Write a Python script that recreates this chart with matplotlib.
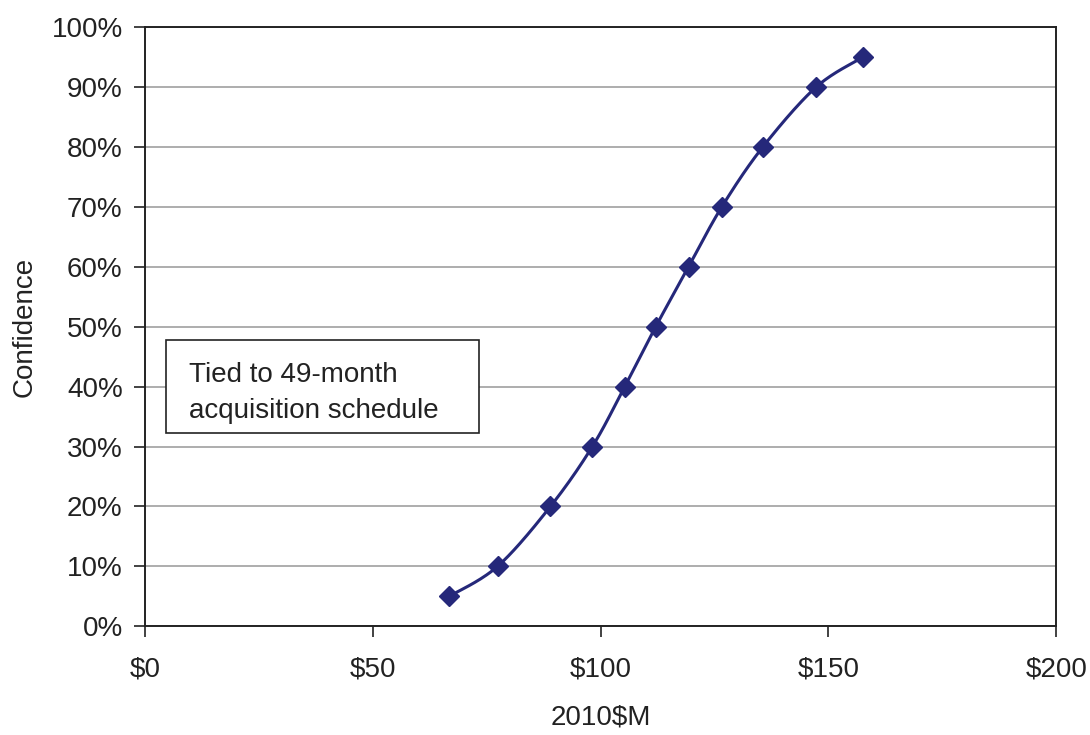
import matplotlib.pyplot as plt
import numpy as np
from matplotlib.patches import Rectangle
from matplotlib.ticker import FuncFormatter, MultipleLocator

plt.rcParams['font.family'] = ['Liberation Sans', 'DejaVu Sans']

cost = [66.8, 77.4, 89.0, 98.2, 105.3, 112.1, 119.3, 126.6, 135.6, 147.3, 157.6]
confidence = [0.05, 0.10, 0.20, 0.30, 0.40, 0.50, 0.60, 0.70, 0.80, 0.90, 0.95]
x_ticks = [0, 50, 100, 150, 200]


def smooth(xs, ys, n=30):
    # catmull-rom style smoothing, like the spreadsheet "smoothed line"
    pts = np.column_stack([xs, ys]).astype(float)
    pts = np.vstack([pts[0], pts, pts[-1]])
    out = []
    for i in range(1, len(pts) - 2):
        p0, p1, p2, p3 = pts[i - 1], pts[i], pts[i + 1], pts[i + 2]
        c1 = p1 + (p2 - p0) / 6.0
        c2 = p2 - (p3 - p1) / 6.0
        t = np.linspace(0, 1, n)[:, None]
        seg = ((1 - t) ** 3) * p1 + 3 * ((1 - t) ** 2) * t * c1 + 3 * (1 - t) * t ** 2 * c2 + t ** 3 * p2
        out.append(seg)
    out = np.vstack(out)
    return out[:, 0], out[:, 1]


fig = plt.figure(figsize=(10.9, 7.35), dpi=100)
ax = fig.add_axes([0.133, 0.148, 0.836, 0.815])

# scale y to pixel-like units so the smoothing is not distorted
sx, sy = smooth(np.array(cost), np.array(confidence) * 200)
navy = '#25287a'
ax.plot(sx, sy / 200, color=navy, lw=2.2, zorder=3)
ax.plot(cost, confidence, linestyle='none', marker='D', ms=10.5, color=navy, zorder=4)

ax.set_xlim(0, 200)
ax.set_ylim(0, 1.0)
ax.set_xticks(x_ticks)
ax.xaxis.set_major_formatter(FuncFormatter(lambda v, p: f'${v:.0f}'))
ax.yaxis.set_major_locator(MultipleLocator(0.1))
ax.yaxis.set_major_formatter(FuncFormatter(lambda v, p: f'{v * 100:.0f}%'))
ax.grid(axis='y', color='#a0a0a0', lw=1.2)
ax.set_axisbelow(True)

for s in ax.spines.values():
    s.set_color('#222222')
    s.set_linewidth(1.4)
ax.tick_params(axis='both', direction='out', length=8, width=1.2, color='#222222',
               labelsize=20, labelcolor='#222222')
ax.tick_params(axis='x', pad=14)
ax.tick_params(axis='y', pad=8)

ax.set_xlabel('2010$M', fontsize=20, color='#222222', labelpad=16)
ax.set_ylabel('Confidence', fontsize=20, color='#222222', labelpad=10)

# note box
ax.add_patch(Rectangle((0.023, 0.322), 0.344, 0.155, transform=ax.transAxes,
                       facecolor='white', edgecolor='#222222', lw=1.2, zorder=5))
ax.text(0.048, 0.39, 'Tied to 49-month\nacquisition schedule', transform=ax.transAxes,
        fontsize=20, color='#222222', va='center', ha='left', linespacing=1.5, zorder=6)

plt.savefig('out.png', dpi=100, facecolor='white')
